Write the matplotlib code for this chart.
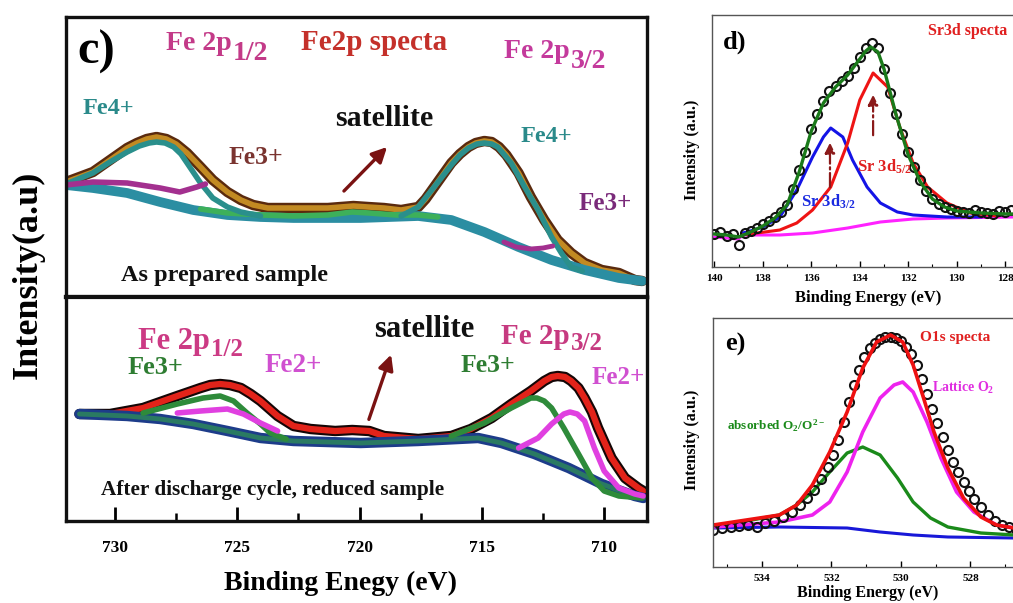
import matplotlib
matplotlib.use("Agg")
import matplotlib.pyplot as plt
from matplotlib.ticker import MultipleLocator, NullLocator

plt.rcParams.update({
    "font.family": ["Liberation Serif", "DejaVu Serif"],
    "font.weight": "bold",
    "mathtext.fontset": "custom",
    "mathtext.rm": "Liberation Serif:bold",
    "mathtext.it": "Liberation Serif:bold:italic",
    "mathtext.bf": "Liberation Serif:bold",
    "mathtext.default": "rm",
})

# ---------------- Fe 2p, as-prepared sample ----------------
prep_env_ev = [732.0, 730.9, 730.2, 729.5, 729.1, 728.7, 728.3, 727.9, 727.5, 727.05,
               726.5, 726.0, 725.4, 724.85, 724.35, 723.75, 722.7, 721.3, 720.25, 719.65,
               719.0, 718.3, 717.6, 717.3, 716.95, 716.6, 716.25, 715.9, 715.55, 715.25,
               714.9, 714.6, 714.3, 714.0, 713.5, 713.0, 712.45, 711.9, 711.35, 710.8,
               710.1, 709.4, 708.75, 708.45]
prep_env = [1.15, 1.25, 1.37, 1.49, 1.54, 1.58, 1.60, 1.58, 1.53, 1.44,
            1.30, 1.17, 1.05, 0.97, 0.92, 0.89, 0.89, 0.89, 0.91, 0.90,
            0.89, 0.87, 0.90, 0.98, 1.10, 1.22, 1.34, 1.43, 1.50, 1.54,
            1.56, 1.55, 1.50, 1.42, 1.24, 1.00, 0.77, 0.57, 0.44, 0.34,
            0.27, 0.24, 0.17, 0.16]

prep_bg_ev = [732.0, 730.9, 729.5, 728.15, 726.8, 725.4, 724.05, 722.7, 719.95, 717.6,
              716.25, 714.9, 713.5, 712.15, 710.8, 709.4, 708.45]
prep_bg = [1.12, 1.09, 1.04, 0.95, 0.87, 0.82, 0.80, 0.79, 0.79, 0.81,
           0.77, 0.65, 0.50, 0.37, 0.27, 0.19, 0.16]

prep_sat_ev = [726.5, 725.4, 724.0, 722.7, 721.3, 720.3, 719.6, 718.5, 717.6, 716.8]
prep_sat = [0.88, 0.84, 0.82, 0.81, 0.82, 0.85, 0.84, 0.82, 0.82, 0.80]

prep_fe4_a_ev = [732.0, 730.9, 730.2, 729.5, 729.0, 728.6, 728.3, 727.95, 727.6, 727.3,
                 727.05, 726.5, 726.0, 725.4, 724.85, 724.05]
prep_fe4_a = [1.13, 1.24, 1.35, 1.45, 1.51, 1.54, 1.55, 1.54, 1.50, 1.43,
              1.34, 1.14, 0.99, 0.90, 0.85, 0.81]

prep_fe3_a_ev = [732.0, 730.9, 729.5, 728.15, 727.35, 726.65, 726.3]
prep_fe3_a = [1.12, 1.15, 1.14, 1.09, 1.05, 1.10, 1.13]

prep_fe4_b_ev = [718.3, 717.6, 716.95, 716.25, 715.9, 715.55, 715.2, 714.9, 714.6, 714.35,
                 713.8, 713.25, 712.7, 712.15, 711.75, 711.35, 710.9]
prep_fe4_b = [0.81, 0.90, 1.10, 1.32, 1.42, 1.49, 1.53, 1.54, 1.53, 1.50,
              1.34, 1.10, 0.87, 0.60, 0.44, 0.30, 0.26]

prep_fe3_b_ev = [714.1, 713.6, 713.0, 712.5, 712.1]
prep_fe3_b = [0.55, 0.50, 0.48, 0.49, 0.51]

# ---------------- Fe 2p, reduced sample ----------------
red_env_ev = [731.45, 730.2, 728.85, 727.45, 726.5, 726.1, 725.7, 725.3, 724.85, 724.45,
              724.05, 723.35, 722.7, 722.0, 721.0, 720.3, 719.6, 719.0, 717.6, 716.25,
              715.45, 714.6, 713.8, 713.0, 712.45, 712.15, 711.9, 711.6, 711.35, 711.05,
              710.8, 710.5, 710.25, 709.7, 709.15, 708.6, 708.4]
red_env = [1.07, 1.07, 1.13, 1.25, 1.33, 1.36, 1.37, 1.36, 1.33, 1.27,
           1.20, 1.05, 0.95, 0.92, 0.90, 0.91, 0.90, 0.85, 0.82, 0.85,
           0.92, 1.03, 1.17, 1.30, 1.40, 1.44, 1.45, 1.44, 1.40, 1.33,
           1.23, 1.09, 0.93, 0.63, 0.43, 0.33, 0.30]

red_bg_ev = [731.45, 729.5, 728.15, 726.8, 725.4, 724.05, 722.7, 719.95, 717.6, 715.15,
             714.2, 712.85, 711.45, 710.1, 708.75, 708.4]
red_bg = [1.07, 1.05, 1.02, 0.97, 0.90, 0.83, 0.80, 0.78, 0.80, 0.83,
          0.78, 0.67, 0.53, 0.37, 0.25, 0.23]

red_fe3_a_ev = [728.85, 727.45, 726.4, 725.7, 725.15, 724.6, 724.05, 723.65, 723.0]
red_fe3_a = [1.08, 1.17, 1.23, 1.25, 1.20, 1.08, 0.97, 0.88, 0.82]

red_fe2_a_ev = [727.45, 726.5, 725.4, 724.75, 724.05, 723.35]
red_fe2_a = [1.08, 1.10, 1.12, 1.07, 0.98, 0.90]

red_fe3_b_ev = [716.25, 714.9, 713.8, 713.0, 712.75, 712.45, 712.15, 711.65, 711.05, 710.5,
                710.0, 709.4, 708.45]
red_fe3_b = [0.85, 0.98, 1.13, 1.23, 1.23, 1.20, 1.13, 0.93, 0.67, 0.43,
             0.30, 0.25, 0.23]

red_fe2_b_ev = [713.5, 712.7, 712.15, 711.65, 711.4, 711.1, 710.8, 710.4, 710.0, 709.4,
                708.75, 708.4]
red_fe2_b = [0.73, 0.83, 0.97, 1.07, 1.09, 1.07, 1.00, 0.73, 0.50, 0.33,
             0.27, 0.25]

fe_ticks = [730, 725, 720, 715, 710]

# ---------------- Sr 3d ----------------
sr_ev = [140.0, 139.75, 139.5, 139.25, 139.0, 138.75, 138.5, 138.25, 138.0, 137.75,
         137.5, 137.25, 137.0, 136.75, 136.5, 136.25, 136.0, 135.75, 135.5, 135.25,
         135.0, 134.75, 134.5, 134.25, 134.0, 133.75, 133.5, 133.25, 133.0, 132.75,
         132.5, 132.25, 132.0, 131.75, 131.5, 131.25, 131.0, 130.75, 130.5, 130.25,
         130.0, 129.75, 129.5, 129.25, 129.0, 128.75, 128.5, 128.25, 128.0, 127.75]
sr_counts = [0.33, 0.35, 0.31, 0.33, 0.22, 0.34, 0.36, 0.39, 0.43, 0.46,
             0.50, 0.55, 0.62, 0.78, 0.97, 1.15, 1.38, 1.53, 1.66, 1.76,
             1.81, 1.86, 1.91, 1.99, 2.10, 2.19, 2.24, 2.19, 1.98, 1.74,
             1.53, 1.33, 1.15, 1.00, 0.87, 0.76, 0.68, 0.63, 0.60, 0.58,
             0.56, 0.55, 0.54, 0.57, 0.55, 0.54, 0.53, 0.56, 0.55, 0.57]

sr_fit_ev = [140.0, 139.5, 139.0, 138.5, 138.0, 137.5, 137.0, 136.5, 136.0, 135.5,
             135.0, 134.5, 134.0, 133.75, 133.55, 133.25, 133.0, 132.5, 132.0, 131.5,
             131.0, 130.5, 130.0, 129.0, 128.0, 127.6]
sr_fit = [0.33, 0.32, 0.30, 0.35, 0.41, 0.49, 0.62, 0.95, 1.36, 1.64,
          1.80, 1.92, 2.08, 2.16, 2.20, 2.15, 1.98, 1.52, 1.12, 0.85,
          0.68, 0.60, 0.56, 0.54, 0.53, 0.53]

sr32_ev = [138.85, 138.65, 138.0, 137.3, 136.6, 135.95, 135.5, 135.2, 134.7, 134.3,
           133.7, 133.15, 132.45, 131.8, 130.4, 129.0]
sr32 = [0.34, 0.35, 0.40, 0.50, 0.77, 1.10, 1.30, 1.39, 1.30, 1.07,
        0.80, 0.64, 0.55, 0.52, 0.50, 0.50]

sr52_ev = [138.85, 137.3, 136.6, 135.95, 135.2, 134.5, 134.0, 133.45, 132.85, 132.35,
           131.8, 131.2, 130.4, 129.45, 128.3]
sr52 = [0.32, 0.37, 0.44, 0.57, 0.80, 1.24, 1.67, 1.94, 1.80, 1.40,
        1.04, 0.80, 0.64, 0.54, 0.51]

sr_bg_ev = [140.0, 139.5, 139.0, 138.85, 137.3, 135.95, 134.5, 133.15, 131.8, 130.4, 127.6]
sr_bg = [0.30, 0.29, 0.28, 0.32, 0.32, 0.34, 0.39, 0.45, 0.48, 0.49, 0.50]

sr_ticks = [140, 138, 136, 134, 132, 130, 128]

# ---------------- O 1s ----------------
o_ev = [535.4, 535.15, 534.9, 534.65, 534.4, 534.15, 533.9, 533.65, 533.4, 533.15,
        532.9, 532.7, 532.5, 532.3, 532.1, 531.95, 531.8, 531.65, 531.5, 531.35,
        531.2, 531.05, 530.9, 530.75, 530.6, 530.45, 530.3, 530.15, 530.0, 529.85,
        529.7, 529.55, 529.4, 529.25, 529.1, 528.95, 528.8, 528.65, 528.5, 528.35,
        528.2, 528.05, 527.9, 527.7, 527.5, 527.3, 527.1, 526.9, 526.7]
o_counts = [0.37, 0.39, 0.40, 0.41, 0.42, 0.40, 0.44, 0.46, 0.50, 0.55,
            0.62, 0.69, 0.77, 0.88, 1.00, 1.12, 1.27, 1.45, 1.65, 1.82,
            1.97, 2.10, 2.19, 2.24, 2.28, 2.30, 2.30, 2.29, 2.26, 2.20,
            2.13, 2.02, 1.88, 1.73, 1.58, 1.44, 1.30, 1.17, 1.05, 0.95,
            0.85, 0.76, 0.68, 0.60, 0.52, 0.46, 0.42, 0.40, 0.38]

o_fit_ev = [535.4, 533.5, 533.0, 532.55, 532.05, 531.55, 531.1, 530.7, 530.3, 529.95,
            529.65, 529.35, 529.05, 528.65, 528.2, 527.7, 527.25, 526.75]
o_fit = [0.42, 0.52, 0.62, 0.82, 1.15, 1.55, 1.99, 2.25, 2.32, 2.25,
         2.02, 1.69, 1.35, 0.99, 0.69, 0.50, 0.42, 0.39]

o_lat_ev = [535.4, 533.5, 532.55, 532.05, 531.55, 531.1, 530.6, 530.2, 529.95, 529.65,
            529.25, 528.85, 528.4, 527.9, 527.25, 526.75]
o_lat = [0.40, 0.45, 0.52, 0.65, 0.95, 1.35, 1.69, 1.82, 1.85, 1.75,
         1.45, 1.09, 0.75, 0.55, 0.42, 0.39]

o_abs_ev = [535.4, 533.5, 533.0, 532.55, 532.05, 531.55, 531.1, 530.6, 530.1, 529.65,
            529.15, 528.65, 527.7, 526.75]
o_abs = [0.40, 0.52, 0.62, 0.75, 0.95, 1.14, 1.20, 1.12, 0.89, 0.65,
         0.49, 0.40, 0.34, 0.32]

o_bg_ev = [535.4, 533.5, 531.55, 530.6, 529.65, 528.65, 526.75]
o_bg = [0.39, 0.40, 0.39, 0.35, 0.32, 0.30, 0.29]

o_ticks = [534, 532, 530, 528]

# ---------------- layout helpers ----------------
W, H = 1013, 603
fig = plt.figure(figsize=(W / 100, H / 100), dpi=100)


def box(l, t, r, b):
    return [l / W, 1 - b / H, (r - l) / W, (b - t) / H]


def put(px, py, s, **kw):
    kw.setdefault("ha", "center")
    kw.setdefault("va", "center")
    kw.setdefault("fontweight", "bold")
    fig.text(px / W, 1 - py / H, s, **kw)


def orbital(px, py, main, sub, size, sub_size, drop, color):
    # "Fe 2p" followed by a large, lowered j-label
    put(px, py, main, ha="right", fontsize=size, color=color)
    put(px + 1, py + drop, sub, ha="left", fontsize=sub_size, color=color)


def arrow(x0, y0, x1, y1, **kw):
    fig.add_artist(matplotlib.patches.FancyArrowPatch(
        (x0 / W, 1 - y0 / H), (x1 / W, 1 - y1 / H), transform=fig.transFigure, **kw))


def thick(ax, x, y, outer, inner, lw_out, lw_in):
    ax.plot(x, y, color=outer, lw=lw_out, solid_capstyle="round", solid_joinstyle="round")
    ax.plot(x, y, color=inner, lw=lw_in, solid_capstyle="round", solid_joinstyle="round")


def comp(ax, x, y, color, lw=4):
    ax.plot(x, y, color=color, lw=lw, solid_capstyle="round", solid_joinstyle="round")


# ---------------- panel c: top (as prepared) ----------------
ax_top = fig.add_axes(box(66, 17, 647, 297))
ax_bot = fig.add_axes(box(66, 297, 647, 521))
for ax in (ax_top, ax_bot):
    ax.set_xlim(732.0, 708.25)
    ax.yaxis.set_major_locator(NullLocator())
    for sp in ax.spines.values():
        sp.set_linewidth(2.4)
        sp.set_color("#111111")
ax_top.set_ylim(0, 2.80)
ax_bot.set_ylim(0, 2.24)
ax_top.xaxis.set_major_locator(NullLocator())
ax_top.spines["bottom"].set_linewidth(3.0)
ax_bot.spines["top"].set_linewidth(3.0)

thick(ax_top, prep_env_ev, prep_env, "#5a2a0e", "#c28a22", 7.5, 4.0)
comp(ax_top, prep_bg_ev, prep_bg, "#2b8ea2", lw=7)
comp(ax_top, prep_sat_ev, prep_sat, "#3db05a")
comp(ax_top, prep_fe4_a_ev, prep_fe4_a, "#2a8f8c")
comp(ax_top, prep_fe3_a_ev, prep_fe3_a, "#a3308f")
comp(ax_top, prep_fe4_b_ev, prep_fe4_b, "#2a8f8c")
comp(ax_top, prep_fe3_b_ev, prep_fe3_b, "#a3308f", lw=3.5)

# ---------------- panel c: bottom (reduced) ----------------
thick(ax_bot, red_env_ev, red_env, "#140606", "#e2231a", 7.5, 4.5)
thick(ax_bot, red_bg_ev, red_bg, "#1d3c8a", "#2a7a62", 7.5, 3.5)
comp(ax_bot, red_fe3_a_ev, red_fe3_a, "#2e8b3a")
comp(ax_bot, red_fe2_a_ev, red_fe2_a, "#e040e0")
comp(ax_bot, red_fe3_b_ev, red_fe3_b, "#2e8b3a")
comp(ax_bot, red_fe2_b_ev, red_fe2_b, "#e040e0")

ax_bot.set_xticks(fe_ticks)
ax_bot.xaxis.set_minor_locator(MultipleLocator(2.5))
ax_bot.tick_params(axis="x", which="major", direction="in", length=10, width=2,
                   labelsize=12.5, pad=14)
ax_bot.tick_params(axis="x", which="minor", direction="in", length=6, width=1.8)
for lab in ax_bot.get_xticklabels():
    lab.set_fontweight("bold")

put(28, 275, "Intensity(a.u)", rotation=90, fontsize=26)
put(340, 583, "Binding Enegy (eV)", fontsize=20)

# panel c annotations
put(96, 52, "c)", fontsize=35)
orbital(232, 44, "Fe 2p", "1/2", 20, 20, 9, "#c33a88")
put(374, 43, "Fe2p specta", fontsize=21, color="#c4302a")
orbital(570, 52, "Fe 2p", "3/2", 20, 20, 9, "#c43a9c")
put(108, 108, "Fe4+", fontsize=17.5, color="#2a8a8a")
put(256, 157, "Fe3+", fontsize=18.5, color="#7a3430")
put(384, 119, "satellite", fontsize=21.5, color="#111111")
put(546, 137, "Fe4+", fontsize=17.5, color="#2a8a8a")
put(605, 203, "Fe3+", fontsize=18, color="#7a2a7a")
put(224, 276, "As prepared sample", fontsize=17.5, color="#111111")
arrow(342, 193, 389, 145, arrowstyle="-|>,head_length=9,head_width=4.5",
      color="#7a1212", lw=2.4, mutation_scale=1)

orbital(210, 342, "Fe 2p", "1/2", 22, 18, 8, "#cc3a84")
put(155, 367, "Fe3+", fontsize=19, color="#2e7d32")
put(293, 366, "Fe2+", fontsize=19.5, color="#d050d0")
put(424, 330, "satellite", fontsize=22, color="#111111")
orbital(570, 336, "Fe 2p", "3/2", 21, 18, 7, "#c63a80")
put(488, 366, "Fe3+", fontsize=18.5, color="#2e7d32")
put(618, 377, "Fe2+", fontsize=18, color="#d050d0")
put(273, 490, "After discharge cycle, reduced sample", fontsize=15.3, color="#111111")
arrow(368, 422, 392, 352, arrowstyle="-|>,head_length=9,head_width=4.5",
      color="#7a1212", lw=2.4, mutation_scale=1)

# ---------------- panel d: Sr 3d ----------------
ax_d = fig.add_axes(box(712, 15, 1033, 267))
ax_d.set_xlim(140.1, 126.85)
ax_d.set_ylim(0, 2.52)
ax_d.plot(sr_bg_ev, sr_bg, color="#ff22ff", lw=2.2)
ax_d.plot(sr32_ev, sr32, color="#1414e6", lw=2.2)
ax_d.plot(sr52_ev, sr52, color="#ee1414", lw=2.2)
ax_d.plot(sr_ev, sr_counts, "o", ms=6.5, mfc="none", mec="#111111", mew=1.5)
ax_d.plot(sr_fit_ev, sr_fit, color="#1a7a1a", lw=2.4)
ax_d.annotate("", xy=(135.23, 1.27), xytext=(135.23, 0.77),
              arrowprops=dict(arrowstyle="-|>,head_length=0.6,head_width=0.3",
                              linestyle="-.", color="#8b1a1a", lw=1.6))
ax_d.annotate("", xy=(133.45, 1.75), xytext=(133.45, 1.29),
              arrowprops=dict(arrowstyle="-|>,head_length=0.6,head_width=0.3",
                              linestyle="-.", color="#8b1a1a", lw=1.6))
ax_d.set_xticks(sr_ticks)
ax_d.xaxis.set_minor_locator(MultipleLocator(1))
ax_d.yaxis.set_major_locator(NullLocator())
ax_d.tick_params(axis="x", which="major", direction="in", length=4, width=1, labelsize=8, pad=5)
ax_d.tick_params(axis="x", which="minor", direction="in", length=2, width=0.8)
for sp in ax_d.spines.values():
    sp.set_linewidth(1.0)
    sp.set_color("#555555")
for lab in ax_d.get_xticklabels():
    lab.set_fontweight("bold")
put(692, 150, "Intensity (a.u.)", rotation=90, fontsize=11.5)
put(868, 298, "Binding Energy (eV)", fontsize=12)
put(735, 42, "d)", fontsize=19)
put(968, 31, "Sr3d specta", fontsize=11.5, color="#e02020")
put(828, 202, "Sr 3d$_{3/2}$", fontsize=12, color="#1a2ae0")
put(884, 167, "Sr 3d$_{5/2}$", fontsize=12, color="#e02020")

# ---------------- panel e: O 1s ----------------
ax_e = fig.add_axes(box(713, 318, 1033, 567))
ax_e.set_xlim(535.41, 526.2)
ax_e.set_ylim(0, 2.49)
ax_e.plot(o_bg_ev, o_bg, color="#1818d8", lw=2.2)
ax_e.plot(o_abs_ev, o_abs, color="#1a8a1a", lw=2.4)
ax_e.plot(o_lat_ev, o_lat, color="#ee22ee", lw=2.6)
ax_e.plot(o_ev, o_counts, "o", ms=6.5, mfc="none", mec="#111111", mew=1.5)
ax_e.plot(o_fit_ev, o_fit, color="#ee1111", lw=2.6)
ax_e.set_xticks(o_ticks)
ax_e.xaxis.set_minor_locator(MultipleLocator(1))
ax_e.yaxis.set_major_locator(NullLocator())
ax_e.tick_params(axis="x", which="major", direction="in", length=4, width=1, labelsize=8, pad=5)
ax_e.tick_params(axis="x", which="minor", direction="in", length=2, width=0.8)
for sp in ax_e.spines.values():
    sp.set_linewidth(1.0)
    sp.set_color("#555555")
for lab in ax_e.get_xticklabels():
    lab.set_fontweight("bold")
put(692, 440, "Intensity (a.u.)", rotation=90, fontsize=11.5)
put(868, 593, "Binding Energy (eV)", fontsize=11.5)
put(735, 344, "e)", fontsize=19)
put(955, 337, "O1s specta", fontsize=11, color="#e02020")
put(963, 388, "Lattice O$_2$", fontsize=10, color="#e02ee0")
put(776, 426, "absorbed O$_2$/O$^{2-}$", fontsize=9.5, color="#1a8a1a")

fig.savefig("out.png", dpi=100)
